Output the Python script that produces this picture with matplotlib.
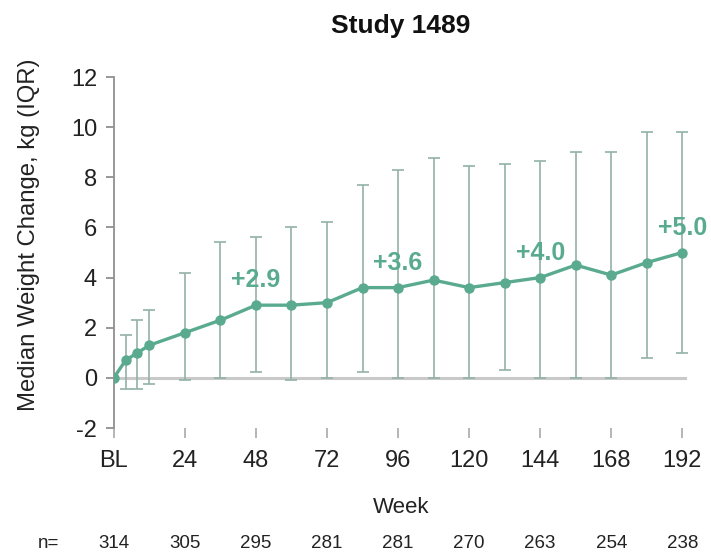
import matplotlib.pyplot as plt
import numpy as np

plt.rcParams['font.family'] = ['Liberation Sans', 'DejaVu Sans']
plt.rcParams['axes.unicode_minus'] = False

# median weight change by study week, with the interquartile range
weeks = [0, 4, 8, 12, 24, 36, 48, 60, 72, 84, 96, 108, 120, 132, 144, 156, 168, 180, 192]
median = [0, 0.7, 1.0, 1.3, 1.8, 2.3, 2.9, 2.9, 3.0, 3.6, 3.6, 3.9, 3.6, 3.8, 4.0, 4.5, 4.1, 4.6, 5.0]
q1 = [0, -0.45, -0.45, -0.25, -0.1, 0.0, 0.25, -0.1, 0.0, 0.25, 0.0, 0.0, 0.0, 0.3, 0.0, 0.0, 0.0, 0.8, 1.0]
q3 = [0, 1.7, 2.3, 2.7, 4.2, 5.4, 5.6, 6.0, 6.2, 7.7, 8.3, 8.75, 8.45, 8.55, 8.65, 9.0, 9.0, 9.8, 9.8]

tick_weeks = [0, 24, 48, 72, 96, 120, 144, 168, 192]
tick_labels = ['BL', '24', '48', '72', '96', '120', '144', '168', '192']
n_patients = [314, 305, 295, 281, 281, 270, 263, 254, 238]

# weeks whose median gets called out above the line
callout_weeks = [48, 96, 144, 192]

teal = '#5aaa90'
bar_col = '#93b2a6'

fig = plt.figure(figsize=(7.11, 5.54), dpi=100)
ax = fig.add_axes([0.160, 0.2274, 0.808, 0.6336])

w = np.array(weeks)
m = np.array(median)
lo = m - np.array(q1)
hi = np.array(q3) - m
# baseline has no spread
ax.errorbar(w[1:], m[1:], yerr=[lo[1:], hi[1:]], fmt='none', ecolor=bar_col,
            elinewidth=1.2, capsize=4, capthick=1.2, zorder=2)
ax.axhline(0, xmin=0, xmax=0.995, color='#c9c9c9', lw=2.2, zorder=1)
ax.plot(w, m, color=teal, lw=2.4, marker='o', ms=6.5, zorder=3)

for wk in callout_weeks:
    val = median[weeks.index(wk)]
    ax.annotate('+{:.1f}'.format(val), xy=(wk, val), xytext=(0, 18),
                textcoords='offset points', ha='center', va='center',
                color=teal, fontsize=18, fontweight='bold', zorder=4)

ax.set_xlim(0, 194)
ax.set_ylim(-2, 12)
ax.set_yticks(range(-2, 13, 2))
ax.set_xticks(tick_weeks, tick_labels)
ax.get_xticklabels()[0].set_fontsize(13)

for s in ['top', 'right', 'bottom']:
    ax.spines[s].set_visible(False)
ax.spines['left'].set_color('#909090')
ax.spines['left'].set_linewidth(1.3)
ax.tick_params(axis='y', colors='#909090', labelcolor='#222222', labelsize=17,
               length=6, width=1.3, pad=6)
ax.tick_params(axis='x', colors='#b0b0b0', labelcolor='#222222', labelsize=17,
               length=7, width=1.3, pad=9)

ax.set_xlabel('Week', fontsize=16, color='#222222', labelpad=18)
ax.set_ylabel('Median Weight Change, kg (IQR)', fontsize=17.2, color='#222222')
ax.yaxis.set_label_coords(-0.128, 0.55)
ax.set_title('Study 1489', fontsize=19, fontweight='bold', color='#111111', pad=32)

# patient counts under each week
trans = ax.get_xaxis_transform()
ax.text(-22, -0.328, 'n=', transform=trans, ha='center', va='center',
        fontsize=13.5, color='#222222')
for wk, n in zip(tick_weeks, n_patients):
    ax.text(wk, -0.328, str(n), transform=trans, ha='center', va='center',
            fontsize=13.5, color='#222222')

fig.savefig('out.png', dpi=100, facecolor='white')
